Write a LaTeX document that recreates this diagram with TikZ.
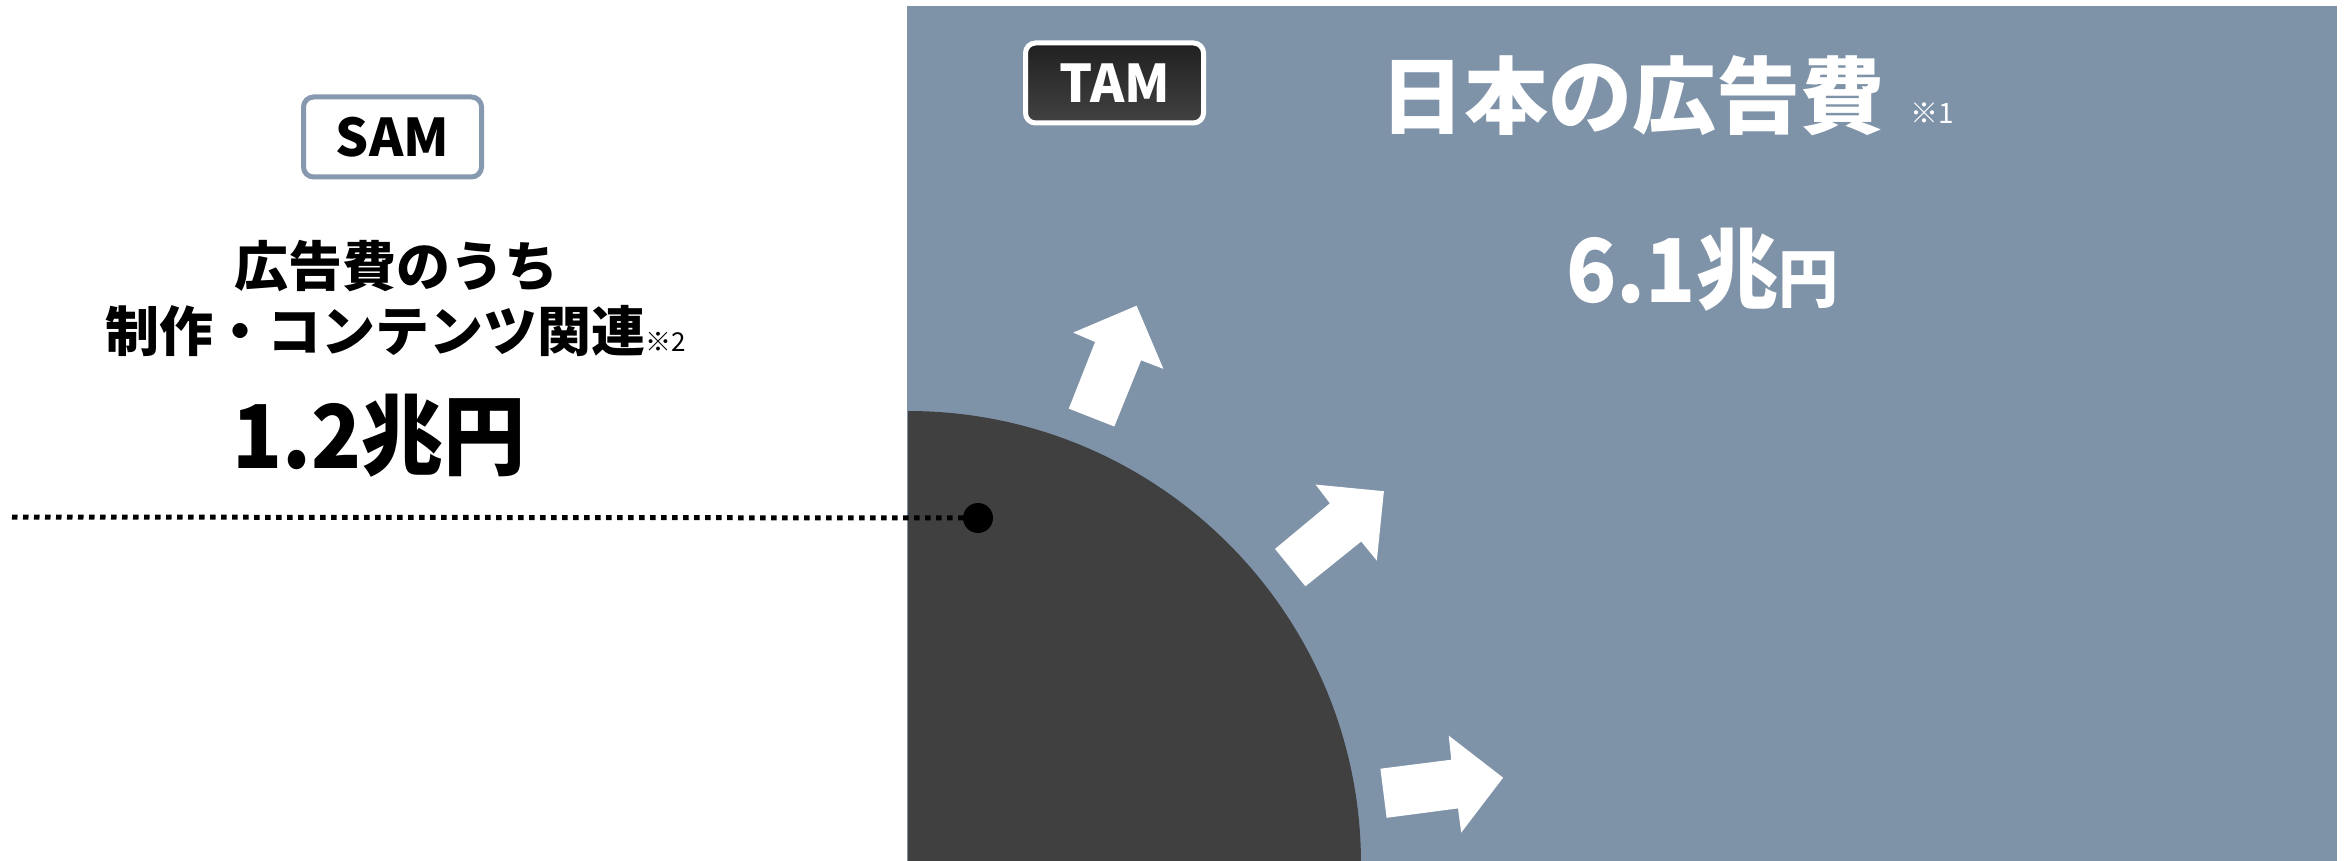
\documentclass[tikz,border=0pt]{standalone}
\usepackage{fontspec}
\setmainfont{Noto Sans CJK JP}
\definecolor{panelc}{RGB}{127,147,168}
\definecolor{darkc}{RGB}{64,64,64}
\definecolor{samborder}{RGB}{134,153,175}
\definecolor{tamtop}{RGB}{32,32,32}
\definecolor{tambot}{RGB}{66,66,66}
\tikzset{
  tagbox/.style={rounded corners=5pt, line width=2.5pt, minimum width=89pt, minimum height=40pt, inner sep=0pt, font=\bfseries\fontsize{26}{30}\selectfont},
  midtext/.style={inner sep=0pt, font=\bfseries\fontsize{27}{32}\selectfont},
  bigtext/.style={inner sep=0pt, font=\bfseries\fontsize{44}{50}\selectfont},
  whitearrow/.style={fill=white},
}
\begin{document}
\begin{tikzpicture}[x=0.5pt,y=-0.5pt]
\useasboundingbox (0,0) rectangle (2351,861);
% panel
\fill[panelc] (907,6) rectangle (2337,861);
\begin{scope}
\clip (908,6) rectangle (2337,861);
\fill[darkc] (908,864) circle[radius=226.5pt];
\end{scope}
% arrows
\fill[whitearrow] (1068.8,408.6) -- (1095.1,342.0) -- (1073.2,332.6) -- (1136.6,305.7) -- (1163.4,368.9) -- (1141.1,360.3) -- (1114.3,426.5) -- cycle;
\fill[whitearrow] (1275,548.9) -- (1329.9,503.3) -- (1315.6,484.6) -- (1383.9,491.2) -- (1376.8,560.6) -- (1361.2,541.5) -- (1305.4,586.3) -- cycle;
\fill[whitearrow] (1380.4,768.7) -- (1451.3,759.7) -- (1448.7,735.6) -- (1503.1,777.7) -- (1461.2,832.6) -- (1458.0,808.4) -- (1386.6,817.8) -- cycle;
% dotted connector
\coordinate (lstart) at (12,517);
\node[circle, fill=black, minimum size=15pt, inner sep=0pt] (dot) at (978,518) {};
\draw[line width=2.5pt, dash pattern=on 2.75pt off 2.75pt] (lstart) -- (dot.center);
% left side
\node[tagbox, draw=samborder, fill=white, text=black] (sam) at (392.5,137) {SAM};
\node[midtext] (l1) at (396,266) {広告費のうち};
\node[midtext] (l2) at (396,331) {制作・コンテンツ関連{\mdseries\fontsize{13}{15}\selectfont ※2}};
\node[bigtext, anchor=base west] (v1) at (232,468) {\scalebox{0.935}[1]{1.2兆円}};
% right side
\node[tagbox, draw=white, top color=tamtop, bottom color=tambot, text=white] (tam) at (1114.5,83) {TAM};
\node[inner sep=0pt, text=white, font=\bfseries\fontsize{42}{48}\selectfont] (title) at (1632,96) {日本の広告費};
\node[inner sep=0pt, text=white, anchor=west, font=\fontsize{14}{16}\selectfont] (n1) at (1910,113) {※1};
\node[bigtext, text=white, anchor=base west] (v2) at (1566,303) {\scalebox{0.94}[1]{6.1兆{\fontsize{32}{36}\selectfont 円}}};
\end{tikzpicture}
\end{document}
